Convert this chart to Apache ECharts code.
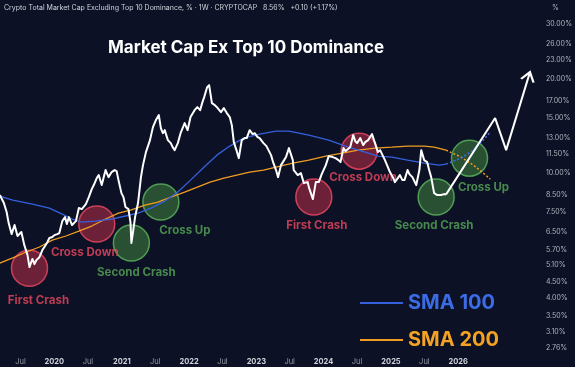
<!DOCTYPE html>
<html>
<head>
<meta charset="utf-8">
<script src="https://cdn.jsdelivr.net/npm/echarts@6/dist/echarts.min.js"></script>
<style>
html,body{margin:0;padding:0;background:#0c1125;}
#chart{width:575px;height:367px;}
</style>
</head>
<body>
<div id="chart"></div>
<script>
// ---------- DATA ----------
const whiteDates = ['2019-03-11','2019-04-02','2019-04-17','2019-04-28','2019-05-14','2019-05-30','2019-06-15','2019-07-06','2019-07-22','2019-08-08','2019-08-19','2019-09-04','2019-09-15','2019-09-26','2019-10-12','2019-10-28','2019-11-08','2019-11-24','2019-12-05','2019-12-21','2020-01-01','2020-01-17','2020-01-28','2020-02-13','2020-02-28','2020-03-09','2020-03-20','2020-04-06','2020-04-27','2020-05-13','2020-05-29','2020-06-20','2020-07-06','2020-07-22','2020-08-02','2020-08-18','2020-08-29','2020-09-14','2020-10-05','2020-10-21','2020-11-07','2020-11-23','2020-12-04','2020-12-14','2020-12-30','2021-01-10','2021-01-21','2021-02-06','2021-02-17','2021-02-22','2021-03-03','2021-03-14','2021-03-30','2021-04-15','2021-04-26','2021-05-12','2021-06-03','2021-06-19','2021-07-05','2021-07-21','2021-08-01','2021-08-12','2021-08-22','2021-09-08','2021-09-24','2021-10-04','2021-10-15','2021-11-01','2021-11-16','2021-11-27','2021-12-08','2021-12-24','2022-01-09','2022-01-31','2022-02-15','2022-03-02','2022-03-13','2022-03-24','2022-04-09','2022-04-20','2022-05-05','2022-05-21','2022-06-01','2022-06-23','2022-07-09','2022-07-25','2022-08-10','2022-08-21','2022-09-01','2022-09-17','2022-09-28','2022-10-14','2022-10-30','2022-11-10','2022-11-26','2022-12-12','2022-12-23','2023-01-08','2023-01-19','2023-02-09','2023-02-25','2023-03-06','2023-03-22','2023-04-02','2023-04-18','2023-04-29','2023-05-15','2023-06-01','2023-06-11','2023-06-27','2023-07-18','2023-07-23','2023-08-14','2023-08-31','2023-09-16','2023-10-07','2023-10-13','2023-11-04','2023-11-20','2023-12-06','2023-12-22','2024-01-13','2024-01-29','2024-02-19','2024-03-06','2024-03-22','2024-04-02','2024-04-18','2024-04-29','2024-05-09','2024-05-25','2024-06-10','2024-06-21','2024-07-01','2024-07-18','2024-08-03','2024-08-14','2024-08-30','2024-09-20','2024-10-06','2024-10-22','2024-11-03','2024-11-29','2024-12-15','2024-12-26','2025-01-11','2025-01-22','2025-02-07','2025-02-18','2025-03-04','2025-03-15','2025-04-01','2025-04-11','2025-04-27','2025-05-18','2025-06-04','2025-06-14','2025-06-30','2025-07-16','2025-07-27','2025-08-07','2025-08-23','2025-09-09','2025-09-30','2025-10-16','2025-10-27'];
const whiteValues = [8.52,8.03,7.52,6.93,6.39,6.83,6.30,6.49,5.89,5.48,5.01,5.32,5.12,5.28,5.39,5.68,5.81,6.02,6.21,6.25,6.34,6.39,6.44,7.03,7.24,6.88,7.24,6.83,7.03,7.74,7.68,7.97,8.39,8.90,9.17,9.65,9.87,9.17,10.24,9.72,10.09,10.24,10.16,9.51,8.64,8.39,7.80,7.68,6.98,5.98,6.49,7.24,8.03,9.72,10.62,11.69,12.77,14.05,14.80,15.35,13.95,13.44,13.74,12.77,12.49,12.13,11.86,12.49,13.44,13.95,14.47,13.74,15.13,15.92,16.28,15.92,16.77,17.53,18.86,19.14,16.77,16.52,16.28,15.69,16.16,15.58,15.13,14.26,12.58,11.77,11.18,12.77,12.96,12.96,13.74,13.35,13.44,13.05,12.96,12.49,12.22,12.13,11.43,10.86,10.24,9.72,10.62,11.02,11.27,12.04,11.02,10.24,9.87,10.01,9.30,9.37,9.03,8.27,9.37,9.37,9.94,10.62,11.35,11.27,11.18,11.02,10.86,12.04,11.77,11.69,12.13,13.25,12.68,12.49,12.96,12.31,12.58,12.77,13.35,12.49,11.69,11.86,11.02,10.47,10.09,9.72,9.37,9.65,9.87,9.51,9.51,10.24,9.94,9.72,9.17,10.24,11.86,11.02,10.86,10.24,9.72,8.64,8.52,8.52,8.58,8.56];

// hand-drawn projection (white, with arrow)
const projDates = ['2025-10-27','2026-07-20','2026-09-18','2027-01-25'];
const projValues = [8.56,15.02,11.86,21.07];

// SMA 100 (blue)
const sma100Dates = ['2019-03-11','2019-05-20','2019-09-04','2019-12-05','2020-02-13','2020-04-06','2020-05-29','2020-08-12','2020-11-07','2021-01-21','2021-03-30','2021-06-08','2021-08-22','2021-11-01','2022-01-09','2022-03-24','2022-06-01','2022-08-10','2022-10-24','2023-01-19','2023-04-18','2023-06-27','2023-10-13','2024-01-29','2024-05-14','2024-08-14','2024-10-22','2025-01-06','2025-04-01','2025-06-30','2025-09-20','2025-10-27'];
const sma100Values = [8.45,8.21,7.97,7.74,7.40,7.14,6.98,7.03,7.14,7.30,7.46,7.74,8.15,8.71,9.51,10.47,11.43,12.22,12.96,13.35,13.64,13.64,13.25,12.77,12.13,11.69,11.35,11.27,11.02,10.78,10.62,10.70];
const sma100ProjDates = ['2025-10-27','2026-01-16','2026-03-24','2026-05-17','2026-06-24'];
const sma100ProjValues = [10.70,11.18,11.86,12.77,13.54];

// SMA 200 (orange)
const sma200Dates = ['2019-03-11','2019-05-20','2019-08-03','2019-10-12','2019-12-21','2020-03-04','2020-05-13','2020-07-22','2020-10-05','2020-12-14','2021-02-22','2021-05-07','2021-07-16','2021-09-24','2021-12-08','2022-02-15','2022-04-25','2022-07-09','2022-09-17','2022-11-26','2023-02-09','2023-04-18','2023-07-18','2023-10-13','2024-01-13','2024-04-12','2024-07-07','2024-10-06','2025-01-06','2025-04-01','2025-06-30','2025-08-23','2025-10-27'];
const sma200Values = [5.16,5.36,5.60,5.81,6.11,6.30,6.53,6.78,7.14,7.46,7.64,7.91,8.09,8.39,8.71,9.03,9.37,9.65,9.87,10.09,10.24,10.47,10.78,11.02,11.35,11.60,11.86,12.04,12.13,12.22,12.22,12.13,11.86];
const sma200ProjDates = ['2025-10-27','2026-01-16','2026-03-24','2026-05-17','2026-06-24'];
const sma200ProjValues = [11.86,11.27,10.62,10.01,9.58];

// annotation circles
const redDates = ['2019-08-19','2020-08-18','2023-11-09','2024-07-12'];
const redValues = [4.97,6.88,8.39,11.77];
const redLabels = ['First Crash','Cross Down','First Crash','Cross Down'];
const greenDates = ['2021-02-22','2021-08-01','2025-09-03','2026-03-03'];
const greenValues = [5.98,8.09,8.39,11.18];
const greenLabels = ['Second Crash','Cross Up','Second Crash','Cross Up'];

// axis ticks
const xTicks = ['2019-07-01','2020-01-01','2020-07-01','2021-01-01','2021-07-01','2022-01-01','2022-07-01','2023-01-01','2023-07-01','2024-01-01','2024-07-01','2025-01-01','2025-07-01','2026-01-01'];
const yTicks = [30,26,23,20,17,15,13,11.5,10,8.5,7.5,6.5,5.7,5.1,4.5,4,3.5,3.1,2.76];
const xMin = '2019-03-12';
const xMax = '2027-02-10';

const headerText = 'Crypto Total Market Cap Excluding Top 10 Dominance, % · 1W · CRYPTOCAP   8.56%   +0.10 (+1.17%)';
const titleText = 'Market Cap Ex Top 10 Dominance';

// ---------- STYLE / BUILD ----------
const FONT = 'Inter, "Noto Sans", sans-serif';
const redOffsets = [[9,4],[-12,0],[3,0],[4,-2]];
const greenOffsets = [[5,1],[24,0],[-2,0],[14,1]];
const ts = s => new Date(s + 'T00:00:00').getTime();
const zip = (a, b) => a.map((d, i) => [ts(d), b[i]]);

const arrowItem = (d, v) => ({
  value: [ts(d), v],
  symbol: 'path://M0,10 L5,0 L10,10',
  symbolSize: [13, 9],
  symbolRotate: -17,
  symbolOffset: [-1.3, 4.3],
  itemStyle: {color: 'rgba(0,0,0,0)', borderColor: '#ffffff', borderWidth: 2}
});

const projData = projDates.map((d, i) => i === projDates.length - 1 ? arrowItem(d, projValues[i]) : {value: [ts(d), projValues[i]], symbol: 'none'});

const circleData = (dates, vals, labels, offs) => dates.map((d, i) => ({
  value: [ts(d), vals[i]], name: labels[i],
  label: {offset: offs[i]}
}));

const chart = echarts.init(document.getElementById('chart'), null, {renderer: 'canvas'});
chart.setOption({
  backgroundColor: '#0c1125',
  animation: false,
  textStyle: {fontFamily: FONT},
  title: [
    {text: headerText, left: 4, top: 4, padding: 0,
     textStyle: {color: '#d1d4dc', fontSize: 7, fontWeight: 'normal', fontFamily: FONT}},
    {text: titleText, left: 108, top: 39, padding: 0,
     textStyle: {color: '#ffffff', fontSize: 17, fontWeight: 'bold', fontFamily: FONT}},
    {text: '%', left: 552, top: 4, padding: 0,
     textStyle: {color: '#b2b5be', fontSize: 7, fontWeight: 'normal', fontFamily: FONT}}
  ],
  legend: {
    left: 355, top: 288, orient: 'vertical', itemGap: 17,
    itemWidth: 43, itemHeight: 2, icon: 'rect',
    selectedMode: false,
    textStyle: {fontSize: 20, fontWeight: 'bold', fontFamily: FONT, lineHeight: 20},
    data: [
      {name: 'SMA 100', textStyle: {color: '#3b6ce6'}},
      {name: 'SMA 200', textStyle: {color: '#f4a223'}}
    ]
  },
  grid: {left: 0, right: 35, top: 18, bottom: 15},
  xAxis: {
    type: 'value', min: ts(xMin), max: ts(xMax),
    axisLine: {show: false}, axisTick: {show: false}, splitLine: {show: false},
    axisLabel: {
      customValues: xTicks.map(ts), margin: 6,
      formatter: function (v) {
        const d = new Date(v);
        return d.getMonth() === 0 ? '{y|' + d.getFullYear() + '}' : '{m|Jul}';
      },
      rich: {
        y: {color: '#d1d4dc', fontWeight: 'bold', fontSize: 7.5, fontFamily: FONT},
        m: {color: '#9598a1', fontSize: 7.5, fontFamily: FONT}
      }
    }
  },
  yAxis: {
    type: 'log', position: 'right', min: 2.68, max: 31.4,
    axisLine: {show: false}, axisTick: {show: false}, splitLine: {show: false},
    axisLabel: {
      customValues: yTicks, margin: 13, color: '#b2b5be', fontSize: 7, fontFamily: FONT,
      formatter: v => Number(v).toFixed(2) + '%'
    }
  },
  series: [
    {type: 'scatter', name: 'red', z: 1, symbolSize: 36,
     itemStyle: {color: 'rgba(214,52,78,0.6)', borderColor: '#f04a64', borderWidth: 1.5},
     label: {show: true, position: 'bottom', distance: 4, formatter: '{b}', color: '#ec4760', fontSize: 11.5, fontWeight: 'bold', fontFamily: FONT},
     data: circleData(redDates, redValues, redLabels, redOffsets)},
    {type: 'scatter', name: 'green', z: 1, symbolSize: 36,
     itemStyle: {color: 'rgba(76,150,70,0.6)', borderColor: '#5cb85c', borderWidth: 1.5},
     label: {show: true, position: 'bottom', distance: 4, formatter: '{b}', color: '#58a858', fontSize: 11.5, fontWeight: 'bold', fontFamily: FONT},
     data: circleData(greenDates, greenValues, greenLabels, greenOffsets)},
    {type: 'line', name: 'SMA 200', z: 3, showSymbol: false, symbol: 'none',
     lineStyle: {color: '#f09c22', width: 1.3}, itemStyle: {color: '#f09c22'},
     data: zip(sma200Dates, sma200Values)},
    {type: 'line', name: 'SMA 200 proj', z: 3, showSymbol: false, symbol: 'none',
     lineStyle: {color: '#f09c22', width: 1.5, type: [2, 2]},
     data: zip(sma200ProjDates, sma200ProjValues)},
    {type: 'line', name: 'SMA 100', z: 3, showSymbol: false, symbol: 'none',
     lineStyle: {color: '#3560de', width: 1.3}, itemStyle: {color: '#3560de'},
     data: zip(sma100Dates, sma100Values)},
    {type: 'line', name: 'SMA 100 proj', z: 3, showSymbol: false, symbol: 'none',
     lineStyle: {color: '#3f6cf0', width: 1.5, type: [2, 2]},
     data: zip(sma100ProjDates, sma100ProjValues)},
    {type: 'line', name: 'Dominance', z: 4, showSymbol: false, symbol: 'none',
     lineStyle: {color: '#ffffff', width: 2, join: 'round'},
     data: zip(whiteDates, whiteValues)},
    {type: 'line', name: 'Projection', z: 4, symbol: 'none', showSymbol: true,
     lineStyle: {color: '#ffffff', width: 2},
     itemStyle: {color: '#ffffff'},
     data: projData}
  ]
});
</script>
</body>
</html>
